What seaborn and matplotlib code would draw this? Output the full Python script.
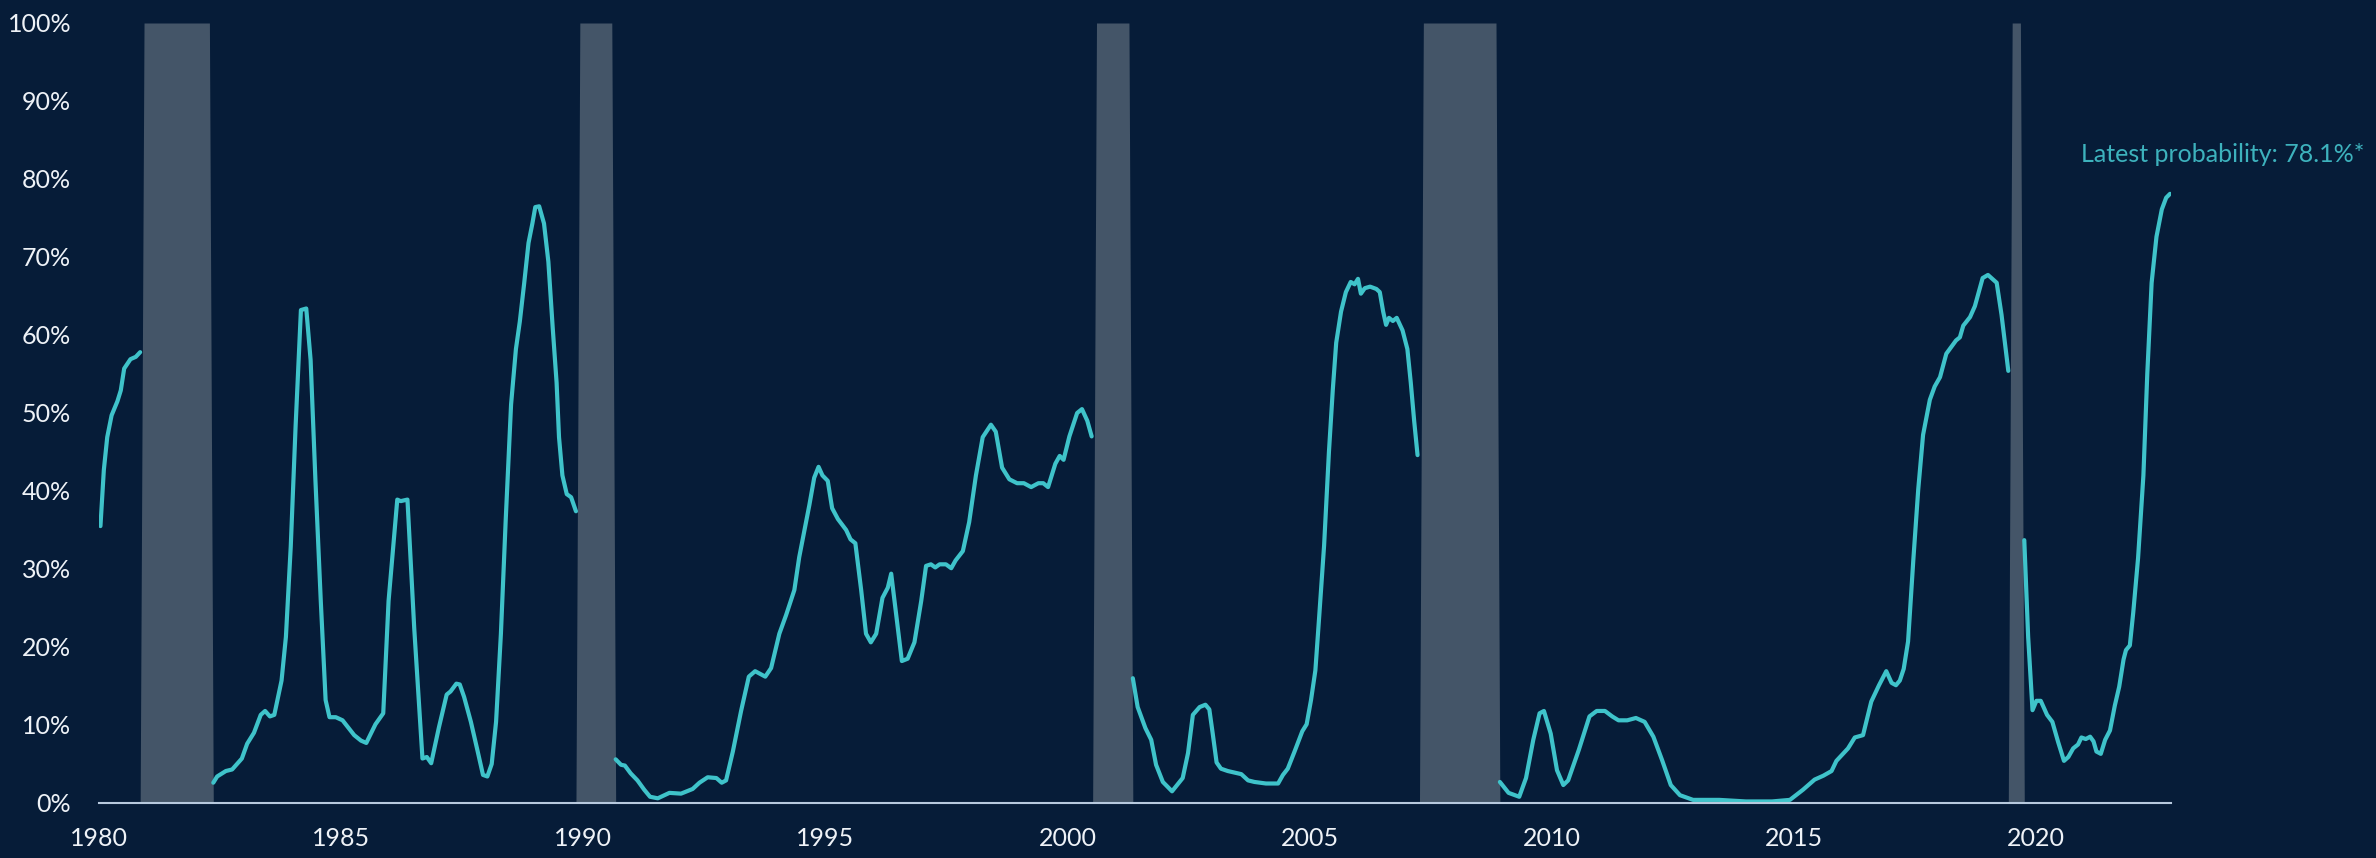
import matplotlib
matplotlib.use("Agg")
import matplotlib.pyplot as plt
import numpy as np
import pandas as pd
import seaborn as sns

# ---- data -------------------------------------------------------------
# Recession periods (decimal years): shaded bands
recession_start = [1980.85, 1989.85, 2000.52, 2007.27, 2019.43]
recession_end = [1982.36, 1990.67, 2001.35, 2008.93, 2019.76]

# Recession probability (%), one run of values between consecutive recessions
years_a = [1980.03, 1980.10, 1980.17, 1980.26, 1980.38, 1980.45, 1980.52, 1980.65, 1980.76, 1980.85]
prob_a = [35.5, 42.7, 46.9, 49.7, 51.5, 52.9, 55.7, 56.9, 57.2, 57.8]

years_b = [1982.36, 1982.44, 1982.62, 1982.75, 1982.95, 1983.06, 1983.20, 1983.34, 1983.43, 1983.53,
           1983.62, 1983.77, 1983.86, 1983.96, 1984.06, 1984.17, 1984.28, 1984.37, 1984.47, 1984.58,
           1984.68, 1984.76, 1984.89, 1985.03, 1985.27, 1985.41, 1985.52, 1985.71, 1985.87, 1985.98,
           1986.16, 1986.23, 1986.37, 1986.51, 1986.68, 1986.77, 1986.86, 1987.02, 1987.18, 1987.26,
           1987.38, 1987.45, 1987.54, 1987.68, 1987.81, 1987.93, 1988.02, 1988.11, 1988.20, 1988.30,
           1988.40, 1988.51, 1988.61, 1988.69, 1988.78, 1988.87, 1988.95, 1989.01, 1989.09, 1989.19,
           1989.28, 1989.37, 1989.45, 1989.50, 1989.57, 1989.66, 1989.75, 1989.85]
prob_b = [2.6, 3.4, 4.1, 4.3, 5.7, 7.6, 9.0, 11.3, 11.8, 11.1,
          11.3, 15.7, 21.3, 32.9, 48.3, 63.2, 63.4, 56.8, 41.3, 25.9,
          13.2, 11.0, 11.0, 10.6, 8.7, 8.0, 7.7, 10.1, 11.5, 25.9,
          38.9, 38.7, 38.9, 22.4, 5.7, 5.9, 5.1, 9.7, 13.9, 14.3,
          15.3, 15.2, 13.6, 10.4, 6.9, 3.6, 3.4, 5.0, 10.4, 21.7,
          36.4, 51.1, 58.2, 61.7, 66.6, 71.8, 74.3, 76.4, 76.5, 74.3,
          69.4, 60.9, 53.9, 46.9, 42.0, 39.6, 39.2, 37.4]

years_c = [1990.67, 1990.78, 1990.86, 1990.98, 1991.12, 1991.26, 1991.38, 1991.54, 1991.78, 1992.02,
           1992.26, 1992.40, 1992.57, 1992.75, 1992.86, 1992.95, 1993.09, 1993.26, 1993.42, 1993.55,
           1993.76, 1993.88, 1994.05, 1994.19, 1994.36, 1994.46, 1994.67, 1994.77, 1994.86, 1994.94,
           1995.05, 1995.14, 1995.26, 1995.43, 1995.52, 1995.62, 1995.74, 1995.84, 1995.94, 1996.05,
           1996.18, 1996.29, 1996.36, 1996.47, 1996.58, 1996.70, 1996.84, 1996.98, 1997.08, 1997.18,
           1997.27, 1997.36, 1997.49, 1997.60, 1997.69, 1997.84, 1997.97, 1998.11, 1998.25, 1998.42,
           1998.52, 1998.65, 1998.80, 1998.96, 1999.10, 1999.25, 1999.40, 1999.50, 1999.60, 1999.75,
           1999.84, 1999.92, 2000.04, 2000.20, 2000.30, 2000.41, 2000.50]
prob_c = [5.6, 4.9, 4.8, 3.8, 2.9, 1.7, 0.8, 0.6, 1.3, 1.2,
          1.8, 2.6, 3.3, 3.2, 2.6, 2.9, 6.6, 11.8, 16.2, 16.9,
          16.2, 17.3, 21.7, 24.1, 27.3, 31.5, 38.2, 41.7, 43.1, 42.0,
          41.3, 37.8, 36.4, 35.0, 33.8, 33.3, 27.3, 21.7, 20.6, 21.7,
          26.3, 27.6, 29.4, 23.8, 18.2, 18.5, 20.6, 25.9, 30.4, 30.6,
          30.2, 30.6, 30.6, 30.1, 31.1, 32.3, 36.0, 42.0, 46.9, 48.5,
          47.6, 43.0, 41.5, 41.0, 41.0, 40.5, 41.0, 41.0, 40.5, 43.5,
          44.5, 44.0, 47.0, 50.0, 50.5, 49.0, 47.0]

years_d = [2001.35, 2001.45, 2001.61, 2001.73, 2001.83, 2001.97, 2002.16, 2002.38, 2002.49, 2002.59,
           2002.73, 2002.85, 2002.93, 2003.00, 2003.08, 2003.17, 2003.31, 2003.59, 2003.73, 2003.86,
           2004.10, 2004.35, 2004.45, 2004.55, 2004.69, 2004.85, 2004.94, 2005.03, 2005.12, 2005.20,
           2005.30, 2005.40, 2005.48, 2005.55, 2005.65, 2005.75, 2005.85, 2005.93, 2006.00, 2006.06,
           2006.14, 2006.25, 2006.38, 2006.45, 2006.52, 2006.58, 2006.64, 2006.72, 2006.80, 2006.92,
           2007.02, 2007.09, 2007.16, 2007.23]
prob_d = [16.0, 12.3, 9.6, 8.1, 4.9, 2.7, 1.5, 3.2, 6.4, 11.3,
          12.3, 12.6, 12.0, 8.9, 5.2, 4.4, 4.1, 3.7, 2.9, 2.7,
          2.5, 2.5, 3.6, 4.4, 6.6, 9.2, 10.1, 13.2, 17.0, 24.0,
          33.0, 45.0, 53.0, 59.0, 63.0, 65.5, 66.8, 66.5, 67.2, 65.3,
          66.0, 66.2, 65.9, 65.5, 63.0, 61.3, 62.2, 61.8, 62.2, 60.6,
          58.2, 53.9, 49.0, 44.6]

years_e = [2008.93, 2009.11, 2009.33, 2009.47, 2009.62, 2009.75, 2009.84, 2009.98, 2010.11, 2010.24,
           2010.34, 2010.56, 2010.78, 2010.93, 2011.10, 2011.25, 2011.38, 2011.56, 2011.74, 2011.92,
           2012.10, 2012.28, 2012.46, 2012.65, 2012.92, 2013.46, 2014.01, 2014.55, 2014.92, 2015.19,
           2015.43, 2015.61, 2015.78, 2015.88, 2016.12, 2016.26, 2016.43, 2016.60, 2016.76, 2016.91,
           2017.02, 2017.11, 2017.19, 2017.27, 2017.36, 2017.47, 2017.57, 2017.67, 2017.81, 2017.91,
           2018.02, 2018.15, 2018.35, 2018.43, 2018.50, 2018.64, 2018.74, 2018.90, 2019.01, 2019.19,
           2019.29, 2019.43]
prob_e = [2.7, 1.3, 0.8, 3.2, 8.1, 11.5, 11.8, 8.9, 4.2, 2.3,
          2.9, 6.8, 11.1, 11.8, 11.8, 11.1, 10.6, 10.6, 10.9, 10.4,
          8.5, 5.5, 2.3, 1.0, 0.4, 0.4, 0.2, 0.2, 0.4, 1.7,
          3.0, 3.5, 4.1, 5.4, 7.0, 8.4, 8.7, 13.0, 15.1, 16.9,
          15.4, 15.1, 15.7, 17.2, 20.7, 31.3, 40.2, 47.2, 51.7, 53.4,
          54.6, 57.6, 59.3, 59.7, 61.2, 62.3, 63.7, 67.3, 67.7, 66.7,
          62.6, 55.4]

years_f = [2019.76, 2019.84, 2019.93, 2020.01, 2020.10, 2020.23, 2020.34, 2020.46, 2020.58, 2020.67,
           2020.77, 2020.87, 2020.94, 2021.03, 2021.12, 2021.19, 2021.25, 2021.34, 2021.43, 2021.53,
           2021.63, 2021.72, 2021.81, 2021.86, 2021.94, 2022.01, 2022.11, 2022.22, 2022.30, 2022.39,
           2022.49, 2022.60, 2022.69, 2022.77]
prob_f = [33.7, 21.3, 11.9, 13.1, 13.1, 11.3, 10.4, 7.8, 5.4, 5.9,
          7.0, 7.5, 8.4, 8.2, 8.5, 7.9, 6.6, 6.3, 8.1, 9.3,
          12.5, 14.9, 18.4, 19.6, 20.2, 24.4, 31.4, 42.0, 55.0, 66.7,
          72.6, 76.1, 77.6, 78.1]

x_ticks = [1980, 1985, 1990, 1995, 2000, 2005, 2010, 2015, 2020]
y_ticks = [0, 10, 20, 30, 40, 50, 60, 70, 80, 90, 100]

# ---- style ------------------------------------------------------------
BG = "#061c38"
BAND = "#445568"
LINE = "#3fc3ca"
NOTE = "#3db2bd"
TEXT = "#eef2f7"
AXIS = "#b7c9de"

sns.set_theme(style="dark", rc={
    "axes.facecolor": BG,
    "figure.facecolor": BG,
    "axes.grid": False,
})
plt.rcParams["font.family"] = ["Lato", "DejaVu Sans"]

segments = [(years_a, prob_a), (years_b, prob_b), (years_c, prob_c),
            (years_d, prob_d), (years_e, prob_e), (years_f, prob_f)]
df = pd.concat(
    [pd.DataFrame({"year": yrs, "prob": vals, "run": i}) for i, (yrs, vals) in enumerate(segments)],
    ignore_index=True,
)

W, H = 2376, 858
fig = plt.figure(figsize=(W / 100, H / 100), dpi=100)
ax = fig.add_axes([99 / W, 55 / H, (2171 - 99) / W, (803 - 23) / H])

# Recession bands, drawn slightly tapered toward the top
taper = 0.08
for s, e in zip(recession_start, recession_end):
    ax.fill_betweenx([0, 100], [s, s + taper], [e, e - taper],
                     color=BAND, linewidth=0, zorder=1)

sns.lineplot(data=df, x="year", y="prob", units="run", estimator=None, sort=False,
             color=LINE, linewidth=3.0, ax=ax, zorder=3)

ax.set_xlim(1980, 2022.79)
ax.set_ylim(0, 100)
ax.set_xlabel("")
ax.set_ylabel("")
ax.set_xticks(x_ticks)
ax.set_xticklabels([str(t) for t in x_ticks])
ax.set_yticks(y_ticks)
ax.set_yticklabels([f"{t}%" for t in y_ticks])
ax.tick_params(axis="both", length=0, labelsize=18, colors=TEXT)
ax.tick_params(axis="y", pad=20)
ax.tick_params(axis="x", pad=17)

for side in ["top", "right", "left"]:
    ax.spines[side].set_visible(False)
ax.spines["bottom"].set_color(AXIS)
ax.spines["bottom"].set_linewidth(1.5)
ax.spines["bottom"].set_zorder(4)

latest = prob_f[-1]
fig.text(2364 / W, 1 - 155 / H, f"Latest probability: {latest:.1f}%*",
         ha="right", va="center", color=NOTE, fontsize=18)

fig.savefig("out.png", dpi=100, facecolor=BG)
